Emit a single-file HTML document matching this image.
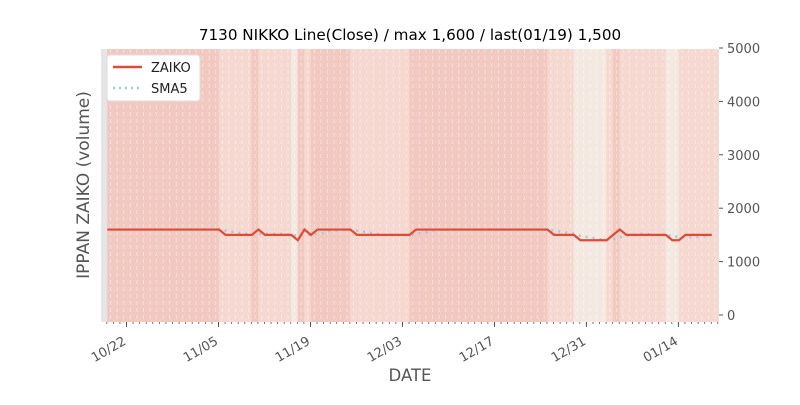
<!DOCTYPE html>
<html><head><meta charset="utf-8"><style>
body{margin:0;background:#fff;font-family:"Liberation Sans","DejaVu Sans",sans-serif}
svg text{font-family:"DejaVu Sans","Liberation Sans",sans-serif}
</style></head><body>
<svg id="chart" width="800" height="400" xmlns="http://www.w3.org/2000/svg">
<text x="410" y="40" font-size="15.2" text-anchor="middle" fill="#000">7130 NIKKO Line(Close) / max 1,600 / last(01/19) 1,500</text>
<rect x="101" y="49" width="618" height="273" fill="#e5e5e5"/>
<g id="bands"></g><g id="grid"></g><g id="series"></g><g id="axes"></g>
<text transform="translate(89,185) rotate(-90)" font-size="17" fill="#555" text-anchor="middle">IPPAN ZAIKO (volume)</text>
<text x="410" y="381" font-size="16.5" fill="#555" text-anchor="middle">DATE</text>
<g>
<rect x="107" y="55" width="93" height="46" rx="3" fill="#fff" stroke="#ddd"/>
<line x1="113" y1="67" x2="142" y2="67" stroke="#e24a33" stroke-width="2.5"/>
<text x="151" y="72" font-size="13" fill="#222">ZAIKO</text>
<line x1="113" y1="88" x2="142" y2="88" stroke="#9ccae0" stroke-width="2.5" stroke-dasharray="2,4"/>
<text x="151" y="93" font-size="13" fill="#222">SMA5</text>
</g>
</svg>
<script>
const dayCount = 93;
const closeValues = [1600,1600,1600,1600,1600,1600,1600,1600,1600,1600,1600,1600,1600,1600,1600,1600,1600,1600,1500,1500,1500,1500,1500,1600,1500,1500,1500,1500,1500,1400,1600,1500,1600,1600,1600,1600,1600,1600,1500,1500,1500,1500,1500,1500,1500,1500,1500,1600,1600,1600,1600,1600,1600,1600,1600,1600,1600,1600,1600,1600,1600,1600,1600,1600,1600,1600,1600,1600,1500,1500,1500,1500,1400,1400,1400,1400,1400,1500,1600,1500,1500,1500,1500,1500,1500,1500,1400,1400,1500,1500,1500,1500,1500];
const bandLevels = [2,2,2,2,2,2,2,2,2,2,2,2,2,2,2,2,2,1,1,1,1,1,2,1,1,1,1,1,0,2,1,2,2,2,2,2,2,1,1,1,1,1,1,1,1,1,2,2,2,2,2,2,2,2,2,2,2,2,2,2,2,2,2,2,2,2,2,1,1,1,1,0,0,0,0,0,1,2,1,1,1,1,1,1,1,0,0,1,1,1,1,1,1];
const yTicks = [0,1000,2000,3000,4000,5000];
const xTickDays = [3,17,31,45,59,73,87];
const xTickLabels = ["10/22","11/05","11/19","12/03","12/17","12/31","01/14"];
const bandColors = ["#f3e9e1","#f5d8d0","#f2c9c0"];
const NS="http://www.w3.org/2000/svg";
const X0=107.3, DX=6.57;
const xs=d=>X0+d*DX;
const ys=v=>315-v*(267/5000);
function mk(tag,attrs,parent){const e=document.createElementNS(NS,tag);for(const k in attrs)e.setAttribute(k,attrs[k]);parent.appendChild(e);return e;}
const bands=document.getElementById('bands'),grid=document.getElementById('grid'),series=document.getElementById('series'),axes=document.getElementById('axes');
bandLevels.forEach((l,i)=>{
 const r=mk('rect',{x:xs(i)-0.2,y:49,width:DX+0.4,height:273,fill:bandColors[l]},bands);
 
 
});
for(let i=0;i<=dayCount;i++){
 const g=mk('line',{x1:xs(i)+DX/2,y1:49,x2:xs(i)+DX/2,y2:322,stroke:'#fff','stroke-opacity':0.5,'stroke-dasharray':'4,3','stroke-width':0.8},grid);
 
 
 const t=mk('line',{x1:xs(i)-0.5,y1:322,x2:xs(i)-0.5,y2:324,stroke:'#555','stroke-width':0.8},axes);
 
 
}
const sma=closeValues.map((v,i)=>i<4?null:closeValues.slice(i-4,i+1).reduce((a,b)=>a+b,0)/5);
const smaPts=sma.map((v,i)=>v==null?null:xs(i)+','+ys(v)).filter(p=>p).join(' ');
const sl=mk('polyline',{points:smaPts,fill:'none',stroke:'#9ccae0','stroke-width':2.5,'stroke-dasharray':'2,5'},series);


const cl=mk('polyline',{points:closeValues.map((v,i)=>xs(i)+','+ys(v)).join(' '),fill:'none',stroke:'#e24a33','stroke-width':2.2},series);


yTicks.forEach(v=>{
 const t=mk('line',{x1:719,y1:ys(v),x2:723,y2:ys(v),stroke:'#555'},axes);
 
 
 const l=mk('text',{x:727,y:ys(v)+5,'font-size':13,fill:'#555'},axes);
 l.textContent=v;
 
 
});
xTickDays.forEach((d,i)=>{
 const x=xs(d)-0.5;
 const t=mk('line',{x1:x,y1:322,x2:x,y2:327,stroke:'#555'},axes);
 
 
 const l=mk('text',{transform:`translate(${x-4},${336}) rotate(-30)`,'font-size':13,fill:'#555','text-anchor':'end','dominant-baseline':'hanging'},axes);
 l.textContent=xTickLabels[i];
 
 
});
</script>
</body></html>
